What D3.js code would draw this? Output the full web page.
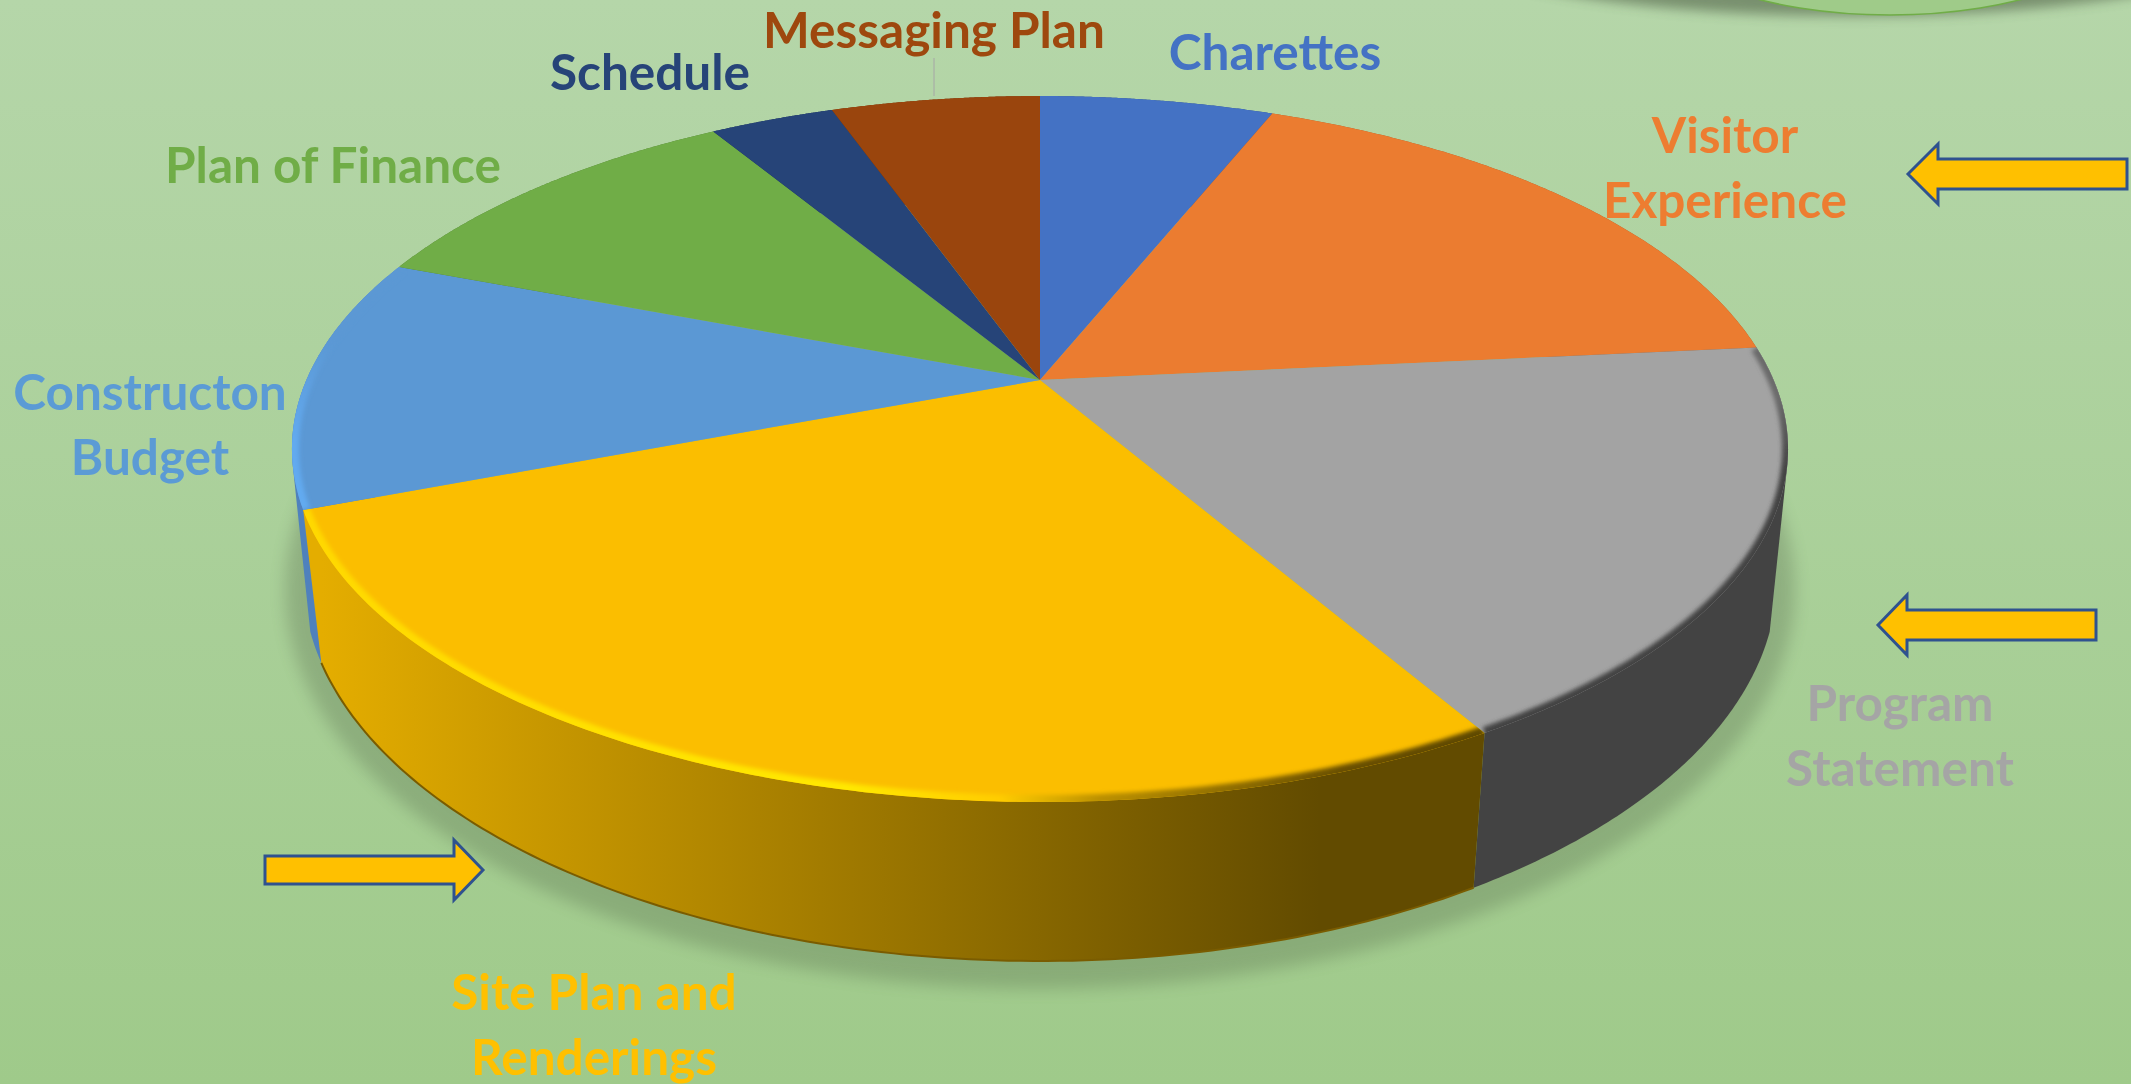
<!DOCTYPE html>
<html>
<head>
<meta charset="utf-8">
<style>
  html, body { margin: 0; padding: 0; overflow: hidden; }
  svg { display: block; }
  text { font-family: Lato, "Open Sans", sans-serif; font-weight: 700; }
</style>
<script src="https://cdn.jsdelivr.net/npm/d3@7"></script>
</head>
<body>
<svg></svg>
<script>
const categories = ["Charettes", "Visitor Experience", "Program Statement", "Site Plan and Renderings", "Constructon Budget", "Plan of Finance", "Schedule", "Messaging Plan"];
const shares = [6.1, 17.35, 18.15, 27.6, 11.6, 10.5, 3.25, 5.45];
const topColors = ["#4472c4", "#eb7c30", "#a3a3a3", "#fbbe00", "#5b98d4", "#70ad47", "#264478", "#9a450d"];
const labelColors = ["#4472c4", "#ed7d31", "#a5a5a5", "#ffc000", "#5b9bd5", "#70ad47", "#264478", "#9e480e"];
const wallColors = ["#2f4f88", "#a65722", "#434343", "#b08600", "#4f81bd", "#4e7a32", "#1a2f54", "#6e320a"];

const width = 2131;
const height = 1084;

const svg = d3.select("svg").attr("width", width).attr("height", height);
const defs = svg.append("defs");

// background
const bg = defs.append("linearGradient").attr("id", "bg").attr("x1", 0).attr("y1", 0).attr("x2", 0).attr("y2", 1);
bg.append("stop").attr("offset", 0).attr("stop-color", "#b5d6a9");
bg.append("stop").attr("offset", 1).attr("stop-color", "#9fca8a");
svg.append("rect").attr("width", width).attr("height", height).attr("fill", "url(#bg)");

[["blur8", 8], ["blur2", 2], ["blur6", 6]].forEach(([id, s]) => {
  defs.append("filter").attr("id", id)
    .attr("filterUnits", "userSpaceOnUse")
    .attr("x", -100).attr("y", -300).attr("width", width + 200).attr("height", height + 600)
    .append("feGaussianBlur").attr("stdDeviation", s);
});

// other pie, cut off by the top edge
svg.append("ellipse").attr("cx", 1853).attr("cy", -62).attr("rx", 417).attr("ry", 78)
  .attr("fill", "#3c4c34").attr("opacity", 0.5).attr("filter", "url(#blur6)");
svg.append("ellipse").attr("cx", 1890).attr("cy", -85).attr("rx", 245).attr("ry", 100)
  .attr("fill", "#9fcb89").attr("stroke", "#70ad47").attr("stroke-width", 1.5);

// perspective: unit circle of the pie onto the tilted top face
const apex = { x: 1040, y: 380 };
const k = 0.1955;
const a = 339.5;
const b = 733.6;
const topEllipse = { cx: 1040, cy: 449, rx: 748, ry: 353 };
const botEllipse = { cx: 1040, cy: 578, rx: 737, ry: 383 };

function project(t) {
  const u = Math.sin(t), v = -Math.cos(t), w = 1 - k * v;
  return [apex.x + b * u / w, apex.y + a * v / w];
}
// same rim point on the lower ellipse, slightly pulled in so the wall edges lean
function projectBottom(t) {
  const p = project(t);
  const ex = 0.99 * (p[0] - topEllipse.cx) / topEllipse.rx;
  const side = p[1] < topEllipse.cy ? -1 : 1;
  return [
    botEllipse.cx + botEllipse.rx * ex,
    botEllipse.cy + side * botEllipse.ry * Math.sqrt(1 - ex * ex)
  ];
}
function rim(d, fn) {
  return d3.range(0, 121).map(i => fn(d.startAngle + (d.endAngle - d.startAngle) * i / 120));
}

const pie = d3.pie().sort(null).value(d => d)(shares);
const line = d3.line();

// shadow under the pie
svg.append("ellipse")
  .attr("cx", botEllipse.cx).attr("cy", botEllipse.cy + 12)
  .attr("rx", botEllipse.rx + 18).attr("ry", botEllipse.ry + 16)
  .attr("fill", "#3c4c34").attr("opacity", 0.24).attr("filter", "url(#blur8)");

// gradient on the front wall
const wallGrad = defs.append("linearGradient").attr("id", "siteWall")
  .attr("gradientUnits", "userSpaceOnUse").attr("x1", 322).attr("y1", 0).attr("x2", 1320).attr("y2", 0);
wallGrad.append("stop").attr("offset", 0).attr("stop-color", "#e4ad00");
wallGrad.append("stop").attr("offset", 1).attr("stop-color", "#624b00");

// side walls, hull so the outline stays tangent at the widest point
const drawOrder = [0, 1, 5, 6, 7, 4, 2, 3];
svg.append("g").selectAll("path")
  .data(drawOrder)
  .join("path")
  .attr("d", i => line(d3.polygonHull(rim(pie[i], project).concat(rim(pie[i], projectBottom)))) + "Z")
  .attr("fill", i => i === 3 ? "url(#siteWall)" : wallColors[i]);

// dark line along the bottom of the front wall
svg.append("path")
  .attr("d", line(rim(pie[3], projectBottom)))
  .attr("fill", "none").attr("stroke", "#7a5c00").attr("stroke-width", 2);

// top faces
const faces = svg.append("g");
faces.selectAll("path")
  .data(pie)
  .join("path")
  .attr("d", d => line([[apex.x, apex.y]].concat(rim(d, project))) + "Z")
  .attr("fill", (d, i) => topColors[i]);

// bevel along the rim
pie.forEach((d, i) => {
  defs.append("clipPath").attr("id", "face" + i)
    .append("path").attr("d", line([[apex.x, apex.y]].concat(rim(d, project))) + "Z");
});

const siteBevel = defs.append("linearGradient").attr("id", "siteBevel")
  .attr("gradientUnits", "userSpaceOnUse").attr("x1", 304).attr("y1", 0).attr("x2", 1484).attr("y2", 0);
[[0, "#ffd800"], [0.46, "#ffe800"], [0.59, "#ffcc00"], [0.675, "#bb9000"], [0.88, "#6a5000"], [1, "#5e4800"]].forEach(s => {
  siteBevel.append("stop").attr("offset", s[0]).attr("stop-color", s[1]);
});
const grayBevel = defs.append("linearGradient").attr("id", "grayBevel")
  .attr("gradientUnits", "userSpaceOnUse").attr("x1", 0).attr("y1", 400).attr("x2", 0).attr("y2", 470);
[[0, "#6a6a6a"], [1, "#434343"]].forEach(s => {
  grayBevel.append("stop").attr("offset", s[0]).attr("stop-color", s[1]);
});
const blueBevel = defs.append("linearGradient").attr("id", "blueBevel")
  .attr("gradientUnits", "userSpaceOnUse").attr("x1", 0).attr("y1", 340).attr("x2", 0).attr("y2", 440);
[[0, "#5b98d4"], [1, "#62aaf0"]].forEach(s => {
  blueBevel.append("stop").attr("offset", s[0]).attr("stop-color", s[1]);
});

const bevels = [
  { index: 2, stroke: "url(#grayBevel)", w: 12 },
  { index: 3, stroke: "url(#siteBevel)", w: 14 },
  { index: 4, stroke: "url(#blueBevel)", w: 14 }
];
bevels.forEach(s => {
  svg.append("g").attr("clip-path", `url(#face${s.index})`)
    .append("path")
    .attr("d", line(rim(pie[s.index], project)))
    .attr("fill", "none")
    .attr("stroke", s.stroke)
    .attr("stroke-width", s.w)
    .attr("filter", "url(#blur2)");
});

// block arrows
const arrows = [
  { tip: 1908, base: 1938, end: 2127, y: 174, half: 15, head: 30 },
  { tip: 1878, base: 1907, end: 2096, y: 625, half: 15, head: 30 },
  { tip: 483, base: 454, end: 265, y: 870, half: 14, head: 30 }
];
svg.append("g").selectAll("path")
  .data(arrows)
  .join("path")
  .attr("d", d => line([
    [d.tip, d.y], [d.base, d.y - d.head], [d.base, d.y - d.half], [d.end, d.y - d.half],
    [d.end, d.y + d.half], [d.base, d.y + d.half], [d.base, d.y + d.head]
  ]) + "Z")
  .attr("fill", "#ffc000").attr("stroke", "#2f528f").attr("stroke-width", 3);

// leader line of the messaging label
svg.append("line").attr("x1", 934).attr("x2", 934).attr("y1", 58).attr("y2", 96)
  .attr("stroke", "#a6a6a6").attr("stroke-width", 1);

// labels
const labelPlace = [
  { x: 1275, y: 53, lines: ["Charettes"] },
  { x: 1725, y: 136, lines: ["Visitor", "Experience"] },
  { x: 1900, y: 704, lines: ["Program", "Statement"] },
  { x: 594, y: 993, lines: ["Site Plan and", "Renderings"] },
  { x: 150, y: 393, lines: ["Constructon", "Budget"] },
  { x: 333, y: 166, lines: ["Plan of Finance"] },
  { x: 650, y: 73, lines: ["Schedule"] },
  { x: 934, y: 31, lines: ["Messaging Plan"] }
];
const labels = svg.append("g").selectAll("text")
  .data(categories)
  .join("text")
  .attr("text-anchor", "middle")
  .attr("font-size", 49.5)
  .attr("fill", (d, i) => labelColors[i]);
labels.selectAll("tspan")
  .data((d, i) => labelPlace[i].lines.map((t, j) => ({ t, j, p: labelPlace[i] })))
  .join("tspan")
  .attr("x", d => d.p.x)
  .attr("y", d => d.p.y + d.j * 65)
  .attr("dy", "0.35em")
  .text(d => d.t);
</script>
</body>
</html>
